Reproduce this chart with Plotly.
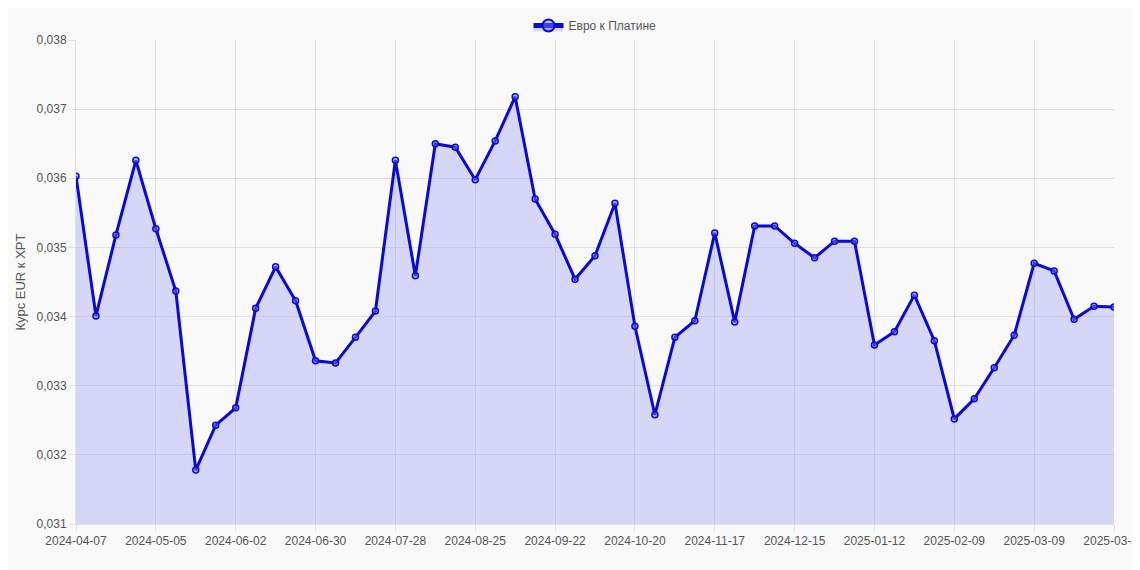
import plotly.graph_objects as go
import datetime as dt

start = dt.date(2024, 4, 7)
dates = [(start + dt.timedelta(weeks=i)).isoformat() for i in range(52)] + ["2025-03-31"]
values = [0.03603,0.03401,0.03518,0.03626,0.03527,0.03437,0.03178,0.03243,0.03268,0.03412,
          0.03472,0.03423,0.03336,0.03333,0.03370,0.03408,0.03626,0.03459,0.03650,0.03645,
          0.03598,0.03654,0.03718,0.03570,0.03519,0.03454,0.03488,0.03564,0.03386,0.03258,
          0.03370,0.03394,0.03521,0.03392,0.03531,0.03531,0.03506,0.03485,0.03509,0.03509,
          0.03359,0.03378,0.03431,0.03365,0.03252,0.03281,0.03326,0.03373,0.03477,0.03466,
          0.03396,0.03415,0.03414]
tick_labels = dates[::4] + ["2025-03-31"]

fig = go.Figure(go.Scatter(
    x=dates, y=values, mode="lines+markers", name="Евро к Платине",
    line=dict(color="#0a0ad6", width=3),
    marker=dict(size=6, color="rgba(120,120,230,0.5)", line=dict(color="#0a0ad6", width=1.5)),
    fill="tozeroy", fillcolor="rgba(150,150,240,0.35)",
))
fig.update_layout(
    width=1140, height=570, paper_bgcolor="#f9f9f9", plot_bgcolor="#f9f9f9",
    margin=dict(l=68, r=34, t=32, b=54, autoexpand=False),
    font=dict(family="Liberation Sans, Arial", size=12, color="#555"),
    showlegend=True,
    legend=dict(orientation="h", x=0.5, xanchor="center", y=1.0, yanchor="bottom",
                font=dict(size=12, color="#555"), itemsizing="constant"),
    xaxis=dict(type="category", tickvals=tick_labels, ticktext=tick_labels,
               showgrid=True, gridcolor="#e0e0e0", range=[0, 52], tickangle=0,
               ticks="outside", ticklen=6, tickcolor="#e0e0e0", linecolor="#e0e0e0"),
    yaxis=dict(range=[0.031, 0.038], dtick=0.001, tickformat=".3f", gridcolor="#e0e0e0",
               title=dict(text="Курс EUR к XPT", font=dict(size=13), standoff=8), zeroline=False,
               ticks="outside", ticklen=6, tickcolor="#e0e0e0", linecolor="#e0e0e0"),
    separators=",.",
)
fig.write_html("out.html")
